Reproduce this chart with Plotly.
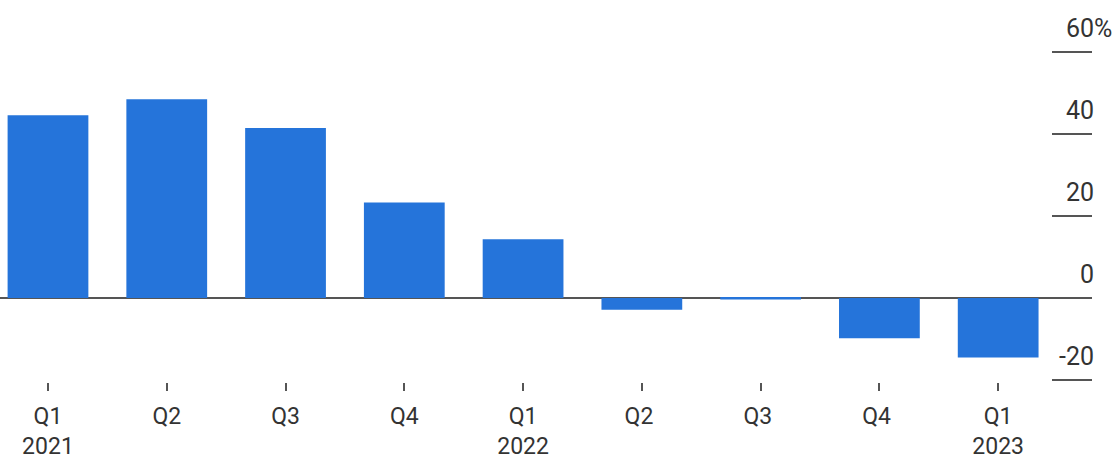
import plotly.graph_objects as go

# Quarterly change, percent
quarters = ["Q1<br>2021", "Q2", "Q3", "Q4", "Q1<br>2022", "Q2 ", "Q3 ", "Q4 ", "Q1<br>2023"]
change_pct = [44.6, 48.5, 41.5, 23.3, 14.3, -2.9, -0.4, -9.8, -14.5]

y_tick_vals = [-20, 0, 20, 40, 60]
y_tick_text = ["-20", "0", "20", "40", "60"]

BAR_BLUE = "#2574DA"
INK = "#333333"
RULE = "#555555"
FONT = "Roboto"

fig = go.Figure(
    go.Bar(
        x=quarters,
        y=change_pct,
        marker=dict(color=BAR_BLUE, line=dict(width=0)),
        hoverinfo="skip",
    )
)

fig.update_layout(
    width=1115,
    height=458,
    margin=dict(l=0, r=23, t=0, b=76, autoexpand=False),
    paper_bgcolor="white",
    plot_bgcolor="white",
    bargap=0.32,
    showlegend=False,
    font=dict(family=FONT, size=24, color=INK),
)

fig.update_xaxes(
    type="category",
    range=[-0.404, 8.79],
    automargin=False,
    showgrid=False,
    showline=False,
    zeroline=False,
    ticks="outside",
    ticklen=8,
    tickwidth=1.5,
    tickcolor=RULE,
    ticklabelstandoff=5,
    tickfont=dict(family=FONT, size=23, color=INK),
)

fig.update_yaxes(
    side="right",
    range=[-20.5, 72.7],
    automargin=False,
    tickvals=y_tick_vals,
    ticktext=y_tick_text,
    showgrid=False,
    showline=False,
    zeroline=True,
    zerolinecolor=RULE,
    zerolinewidth=2,
    ticks="inside",
    ticklen=40,
    tickwidth=2,
    tickcolor=RULE,
    ticklabelposition="inside",
    ticklabelstandoff=-40,
    ticklabelshift=-24,
    tickfont=dict(family=FONT, size=25, color=INK),
)

# Unit marker next to the top tick label
fig.add_annotation(
    x=1.0, xref="paper", xanchor="left",
    y=60, yref="y", yanchor="middle", yshift=24,
    text="%", showarrow=False,
    font=dict(family=FONT, size=25, color=INK),
)

fig.write_html("out.html")
